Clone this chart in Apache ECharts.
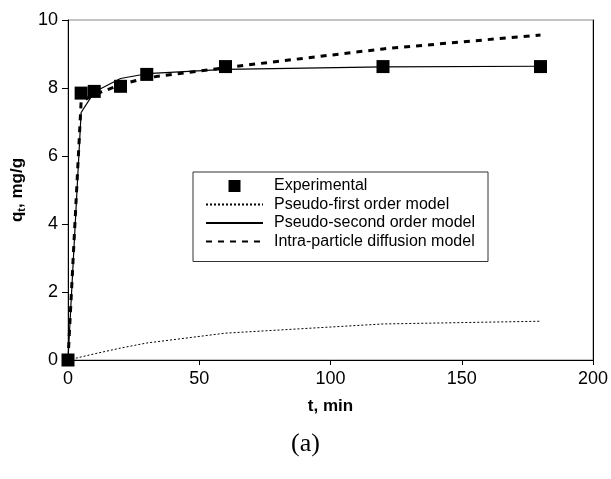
<!DOCTYPE html>
<html><head><meta charset="utf-8">
<script src="https://cdn.jsdelivr.net/npm/echarts@6/dist/echarts.min.js"></script>
<style>html,body{margin:0;padding:0;background:#fff}#c{width:611px;height:479px}</style>
</head><body><div id="c"></div>
<script>
const times = [0, 5, 10, 20, 30, 60, 120, 180];
const experimental = [0, 7.85, 7.9, 8.05, 8.4, 8.63, 8.63, 8.63];
const pseudoFirst = [0, 0.09, 0.18, 0.35, 0.5, 0.79, 1.06, 1.14];
const pseudoSecond = [0, 7.28, 7.88, 8.28, 8.42, 8.55, 8.62, 8.64];
const intraParticle = [0, 7.6, 7.8, 8.1, 8.3, 8.6, 9.15, 9.56];
const xTicks = [0, 50, 100, 150, 200];
const yTicks = [0, 2, 4, 6, 8, 10];

const pair = arr => times.map((t, i) => [t, arr[i]]);
const chart = echarts.init(document.getElementById('c'));
const font = 'Liberation Sans, Arial, sans-serif';
const hideSym = {opacity: 0};
chart.setOption({
  animation: false,
  backgroundColor: '#fff',
  grid: {left: 68, right: 18, top: 20, bottom: 119, outerBoundsMode: 'none', containLabel: false,
         show: true, borderColor: '#888', borderWidth: 1},
  xAxis: {
    type: 'value', min: xTicks[0], max: xTicks[xTicks.length - 1], interval: 50,
    name: 't, min', nameLocation: 'middle', nameGap: 38,
    nameTextStyle: {fontFamily: font, fontWeight: 'bold', fontSize: 17, color: '#000'},
    axisLine: {lineStyle: {color: '#000', width: 1}},
    axisTick: {show: true, length: 5, lineStyle: {color: '#000'}},
    axisLabel: {fontFamily: font, fontSize: 18, color: '#000', margin: 10},
    splitLine: {show: false}
  },
  yAxis: [{
    type: 'value', min: yTicks[0], max: yTicks[yTicks.length - 1], interval: 2,
    name: '{b|q}{s|t}{b|, mg/g}', nameLocation: 'middle', nameGap: 38,
    nameTextStyle: {rich: {
      b: {fontFamily: font, fontWeight: 'bold', fontSize: 17, color: '#000'},
      s: {fontFamily: font, fontWeight: 'bold', fontSize: 11, color: '#000', verticalAlign: 'bottom', padding: [8, 0, 0, 0]}
    }},
    axisLine: {show: true, lineStyle: {color: '#000', width: 1}},
    axisTick: {show: true, length: 6, lineStyle: {color: '#000'}},
    axisLabel: {fontFamily: font, fontSize: 18, color: '#000', margin: 10},
    splitLine: {show: false}
  }, {
    type: 'value', min: 0, max: 10, position: 'right',
    axisLine: {show: true, lineStyle: {color: '#000', width: 1}},
    axisTick: {show: false}, axisLabel: {show: false}, splitLine: {show: false}
  }],
  legend: {
    orient: 'vertical', left: 193, top: 172,
    backgroundColor: '#fff', borderColor: '#333', borderWidth: 1,
    padding: [6, 13, 12, 12], itemWidth: 57, itemHeight: 12, itemGap: 2.5,
    textStyle: {fontFamily: font, fontSize: 16, lineHeight: 16, color: '#000', padding: [0, 0, 0, 6]},
    data: [
      {name: 'Experimental', icon: 'path://M0,0L10,0L10,10L0,10Z', itemStyle: {color: '#000', opacity: 1}},
      {name: 'Pseudo-first order model', itemStyle: hideSym},
      {name: 'Pseudo-second order model', itemStyle: hideSym},
      {name: 'Intra-particle diffusion model', itemStyle: hideSym}
    ]
  },
  series: [
    {name: 'Pseudo-first order model', type: 'line', data: pair(pseudoFirst), symbol: 'none',
     itemStyle: {color: '#000'}, lineStyle: {color: '#000', width: 1, type: [2, 2]}, z: 2},
    {name: 'Pseudo-second order model', type: 'line', data: pair(pseudoSecond), symbol: 'none',
     itemStyle: {color: '#000'}, lineStyle: {color: '#000', width: 1.2, type: 'solid'}, z: 3},
    {name: 'Intra-particle diffusion model', type: 'line', data: pair(intraParticle), symbol: 'none',
     itemStyle: {color: '#000'}, lineStyle: {color: '#000', width: 3, type: [6, 6]}, z: 3},
    {name: 'Experimental', type: 'scatter', data: pair(experimental), symbol: 'rect', symbolSize: 13,
     itemStyle: {color: '#000', opacity: 1}, z: 5}
  ],
  graphic: [{
    type: 'text', left: 'center', top: 431,
    style: {text: '(a)', fontFamily: 'Liberation Serif, Times New Roman, serif', fontSize: 26, fill: '#000'},
    x: 30
  }]
});
</script></body></html>
